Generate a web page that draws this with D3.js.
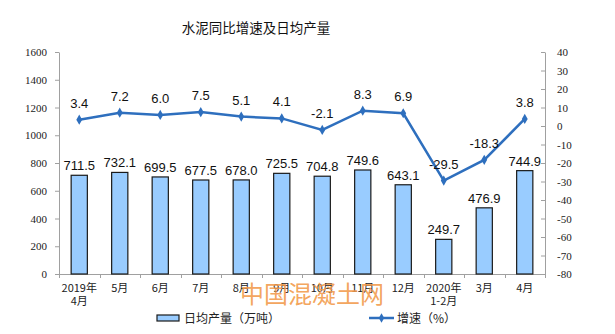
<!DOCTYPE html>
<html><head><meta charset="utf-8">
<script src="https://cdn.jsdelivr.net/npm/d3@7"></script>
<style>body{margin:0;background:#fff}svg{display:block}</style>
</head><body>
<script>
const categories = [["2019年","4月"],["5月"],["6月"],["7月"],["8月"],["9月"],["10月"],["11月"],["12月"],["2020年","1-2月"],["3月"],["4月"]];
const output = [711.5,732.1,699.5,677.5,678.0,725.5,704.8,749.6,643.1,249.7,476.9,744.9];
const growth = [3.4,7.2,6.0,7.5,5.1,4.1,-2.1,8.3,6.9,-29.5,-18.3,3.8];
const leftTicks = [0,200,400,600,800,1000,1200,1400,1600];
const rightTicks = [40,30,20,10,0,-10,-20,-30,-40,-50,-60,-70,-80];
const title = "水泥同比增速及日均产量";
const legendBar = "日均产量（万吨）";
const legendLine = "增速（%）";
const watermark = "中国混凝土网";

const W=615,H=334, L=59, R=545, T=52, B=274;
const svg=d3.select("body").append("svg").attr("width",W).attr("height",H);
const idx=categories.map((d,i)=>i);
const x=d3.scaleBand().domain(idx).range([L,R]).paddingInner(0.6).paddingOuter(0.3);
const xb=d3.scaleBand().domain(idx).range([L,R]);
const yL=d3.scaleLinear().domain([0,1600]).range([B,T]);
const yR=d3.scaleLinear().domain([-80,40]).range([B,T]);
const axisColor="#a0a0a0";
const serif="'Liberation Serif','Times New Roman',serif";
const cjk="'Noto Sans CJK SC','Noto Sans',sans-serif";
const sans="'Liberation Sans',Arial,sans-serif";
const plain=d=>String(d);

svg.append("text").attr("x",256).attr("y",33).attr("text-anchor","middle")
  .attr("font-family",cjk).attr("font-size",13.5).attr("fill","#111").text(title);

// left axis
const ga=svg.append("g").attr("transform",`translate(${L},0)`)
  .call(d3.axisLeft(yL).tickValues(leftTicks).tickFormat(plain).tickSize(4).tickSizeOuter(0).tickPadding(8));
ga.select(".domain").attr("stroke",axisColor);
ga.selectAll(".tick line").attr("stroke",axisColor);
ga.selectAll(".tick text").attr("font-family",serif).attr("font-size",11).attr("fill","#222");
// right axis
const gr=svg.append("g").attr("transform",`translate(${R},0)`)
  .call(d3.axisRight(yR).tickValues(rightTicks).tickFormat(plain).tickSize(-4).tickSizeOuter(0).tickPadding(12));
gr.select(".domain").attr("stroke",axisColor);
gr.selectAll(".tick line").attr("stroke",axisColor);
gr.selectAll(".tick text").attr("font-family",serif).attr("font-size",11).attr("fill","#222").attr("text-anchor","start");

// bottom axis
svg.append("line").attr("x1",L).attr("x2",R).attr("y1",B+0.5).attr("y2",B+0.5).attr("stroke",axisColor);
svg.selectAll(".bt").data(d3.range(categories.length+1)).enter().append("line")
  .attr("x1",i=>Math.round(L+i*xb.step())+0.5).attr("x2",i=>Math.round(L+i*xb.step())+0.5)
  .attr("y1",B).attr("y2",B+4).attr("stroke",axisColor);

// bars
svg.selectAll(".bar").data(output).enter().append("rect")
  .attr("x",(d,i)=>x(i)).attr("width",x.bandwidth())
  .attr("y",d=>yL(d)).attr("height",d=>B-yL(d))
  .attr("fill","#99ccff").attr("stroke","#1a1a1a").attr("stroke-width",1.2);
svg.selectAll(".bl").data(output).enter().append("text")
  .attr("x",(d,i)=>x(i)+x.bandwidth()/2).attr("y",d=>yL(d)-5)
  .attr("text-anchor","middle").attr("font-family",sans).attr("font-size",13).attr("fill","#111")
  .text(d=>d.toFixed(1));

// line
const cx=i=>x(i)+x.bandwidth()/2;
svg.append("path").datum(growth)
  .attr("d",d3.line().x((d,i)=>cx(i)).y(d=>yR(d)))
  .attr("fill","none").attr("stroke","#2e6fbe").attr("stroke-width",2.5);
svg.selectAll(".pt").data(growth).enter().append("path")
  .attr("transform",(d,i)=>`translate(${cx(i)},${yR(d)})`)
  .attr("d",d3.symbol(d3.symbolDiamond,30)).attr("fill","#2e6fbe");
svg.selectAll(".ll").data(growth).enter().append("text")
  .attr("x",(d,i)=>cx(i)).attr("y",d=>yR(d)-12)
  .attr("text-anchor","middle").attr("font-family",sans).attr("font-size",13).attr("fill","#111")
  .text(d=>d.toFixed(1));

// x labels
const xl=svg.selectAll(".xl").data(categories).enter().append("text")
  .attr("x",(d,i)=>cx(i)).attr("y",292).attr("text-anchor","middle")
  .attr("font-family",cjk).attr("font-size",11).attr("fill","#222");
xl.selectAll("tspan").data(d=>d).enter().append("tspan")
  .attr("x",function(){return d3.select(this.parentNode).attr("x");})
  .attr("dy",(d,j)=>j?13:0).text(d=>d);

// watermark
svg.append("text").attr("x",240).attr("y",303).attr("font-family",cjk).attr("font-size",24)
  .attr("fill","#f29a4a").attr("fill-opacity",0.9).text(watermark);

// legend
svg.append("rect").attr("x",157).attr("y",315).attr("width",22).attr("height",6)
  .attr("fill","#99ccff").attr("stroke","#1a1a1a").attr("stroke-width",1.2);
svg.append("text").attr("x",184).attr("y",322.5).attr("font-family",cjk).attr("font-size",12).attr("fill","#222").text(legendBar);
svg.append("line").attr("x1",369).attr("x2",394).attr("y1",318).attr("y2",318).attr("stroke","#2e6fbe").attr("stroke-width",2.5);
svg.append("path").attr("transform","translate(381.5,318)").attr("d",d3.symbol(d3.symbolDiamond,25)).attr("fill","#2e6fbe");
svg.append("text").attr("x",397).attr("y",322.5).attr("font-family",cjk).attr("font-size",12).attr("fill","#222").text(legendLine);
</script>
</body></html>
